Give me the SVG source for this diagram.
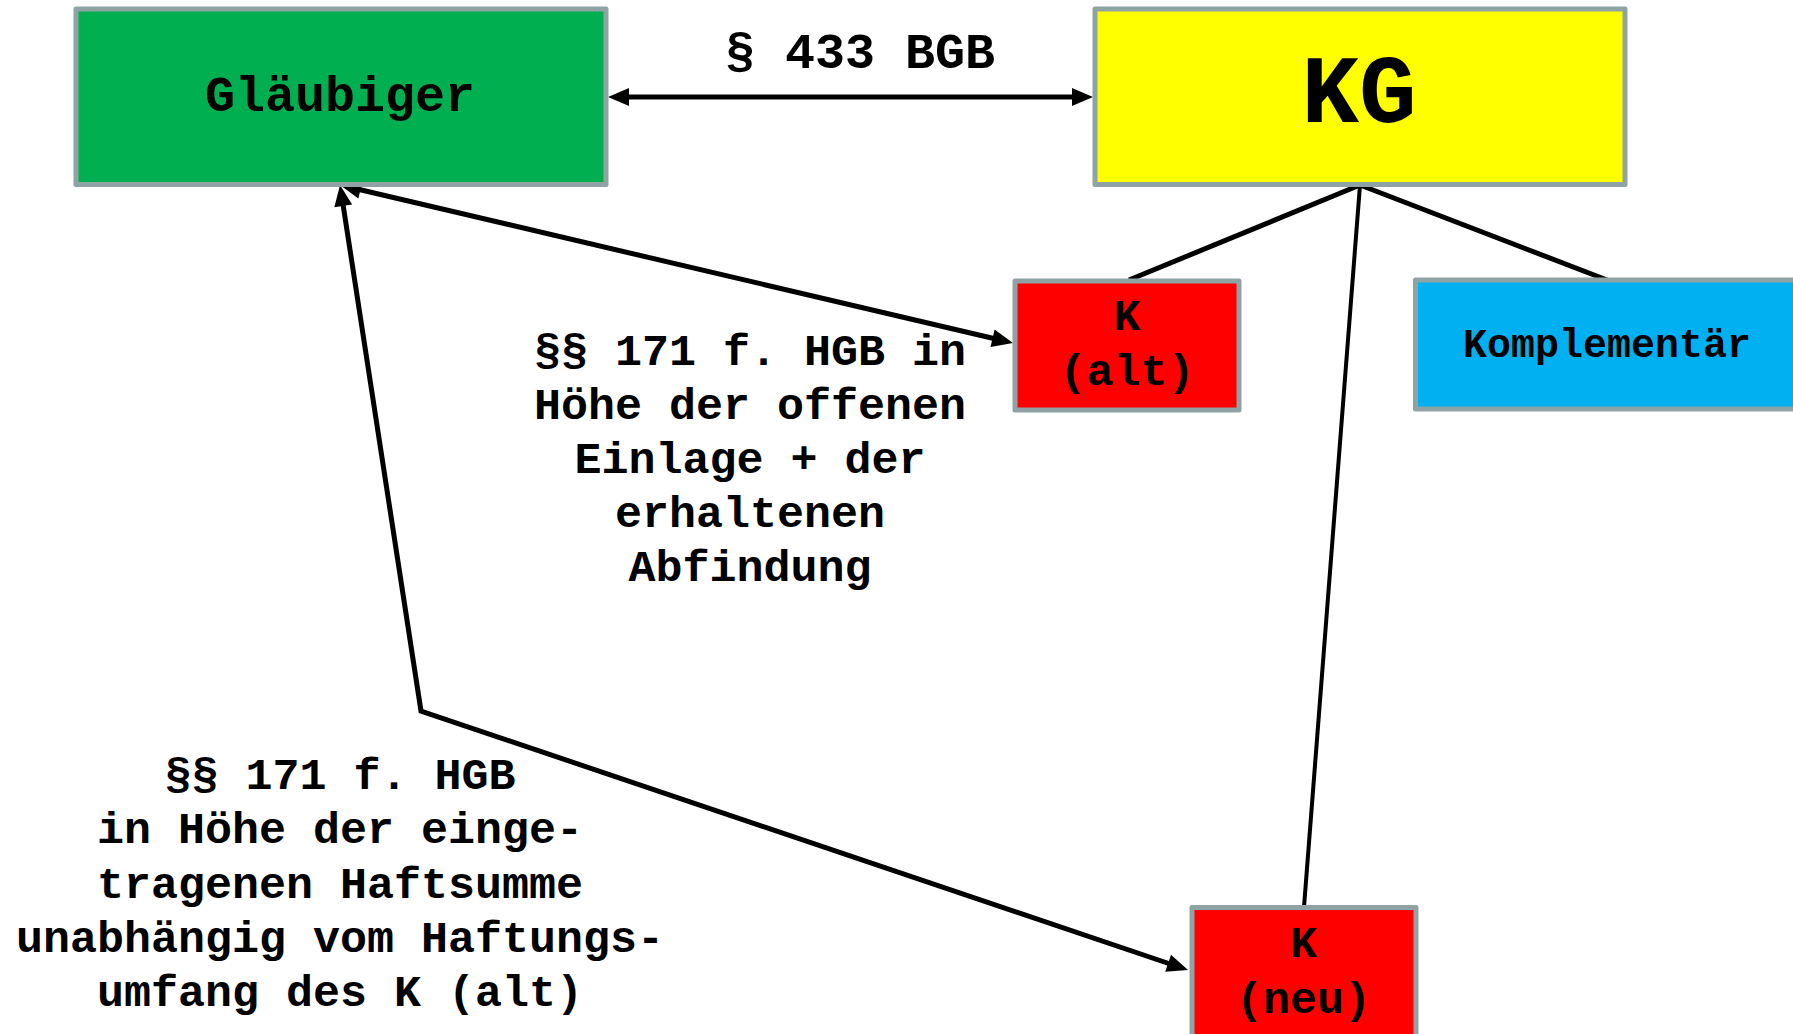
<svg xmlns="http://www.w3.org/2000/svg" width="1793" height="1034" viewBox="0 0 1793 1034">
<style>
.box{stroke:#8FA3A4;stroke-width:5;stroke-linejoin:round}
.t{font-family:"Liberation Mono","Courier New",monospace;font-weight:bold;fill:#000;text-anchor:middle}
.arr{fill:none;stroke:#000;stroke-width:5;marker-start:url(#ah);marker-end:url(#ah)}
.ln{fill:none;stroke:#000;stroke-width:5}
</style>
<defs>
<marker id="ah" markerUnits="userSpaceOnUse" markerWidth="21" markerHeight="18" refX="10" refY="9" orient="auto-start-reverse" overflow="visible">
<path d="M0,0 L21,9 L0,18 Z" fill="#000"/>
</marker>
</defs>
<rect width="1793" height="1034" fill="#fff"/>
<g id="connectors">
<path class="arr" d="M619,97 L1082,97"/>
<path class="arr" d="M350.7,187.5 L1002.3,340.5"/>
<path class="arr" d="M341.7,195.9 L421,711 L1177.6,966.5" stroke-linejoin="miter"/>
<path class="ln" d="M1360,185 L1129,280"/>
<path class="ln" d="M1360,185 L1607,280"/>
<path class="ln" style="stroke-width:4" d="M1360,185 L1304,907"/>
<text class="t" x="860" y="68" font-size="50">§ 433 BGB</text>
<text class="t" font-size="45"><tspan x="750" y="365">§§ 171 f. HGB in</tspan><tspan x="750" y="419">Höhe der offenen</tspan><tspan x="750" y="473">Einlage + der</tspan><tspan x="750" y="527">erhaltenen</tspan><tspan x="750" y="581">Abfindung</tspan></text>
<text class="t" font-size="45"><tspan x="340" y="789">§§ 171 f. HGB</tspan><tspan x="340" y="843">in Höhe der einge-</tspan><tspan x="340" y="898">tragenen Haftsumme</tspan><tspan x="340" y="952">unabhängig vom Haftungs-</tspan><tspan x="340" y="1006">umfang des K (alt)</tspan></text>
</g>
<g id="glaeubiger">
<rect class="box" x="76" y="9" width="530" height="175.5" fill="#00B050"/>
<text class="t" x="340" y="111" font-size="50">Gläubiger</text>
</g>
<g id="kg">
<rect class="box" x="1095" y="9" width="530" height="175.5" fill="#FFFF00"/>
<text class="t" x="1359" y="122" font-size="96">KG</text>
</g>
<g id="k-alt">
<rect class="box" x="1015" y="281" width="224" height="129" fill="#FF0000"/>
<text class="t" font-size="45"><tspan x="1127" y="330">K</tspan><tspan x="1127" y="385">(alt)</tspan></text>
</g>
<g id="komplementaer">
<rect class="box" x="1415.5" y="280" width="383" height="129" fill="#00B0F0"/>
<text class="t" x="1607" y="357" font-size="40">Komplementär</text>
</g>
<g id="k-neu">
<rect class="box" x="1192" y="907.5" width="224" height="129" fill="#FF0000"/>
<text class="t" font-size="45"><tspan x="1303.5" y="957">K</tspan><tspan x="1303.5" y="1013">(neu)</tspan></text>
</g>
</svg>
